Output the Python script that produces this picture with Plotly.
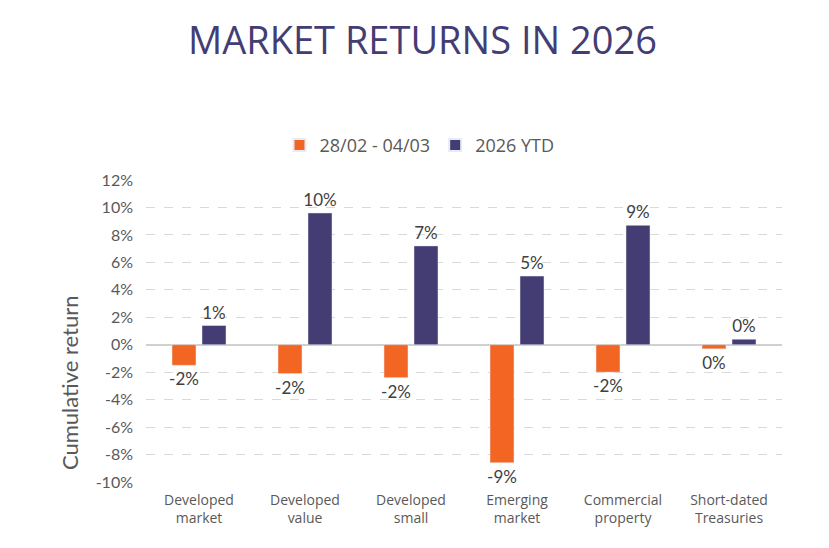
import plotly.graph_objects as go

# Categories and returns (%)
categories = [
    "Developed<br>market",
    "Developed<br>value",
    "Developed<br>small",
    "Emerging<br>market",
    "Commercial<br>property",
    "Short-dated<br>Treasuries",
]
week_returns = [-1.5, -2.1, -2.4, -8.6, -2.0, -0.3]
ytd_returns = [1.4, 9.6, 7.2, 5.0, 8.7, 0.4]

week_name = "28/02 - 04/03"
ytd_name = "2026 YTD"

y_ticks = [-10, -8, -6, -4, -2, 0, 2, 4, 6, 8, 10, 12]

ORANGE = "#F26522"
PURPLE = "#433D74"


def pct_labels(values):
    return [f"{int(round(v))}%" for v in values]


label_font = dict(family="Lato", size=17, color="#404040")

fig = go.Figure()
fig.add_trace(go.Bar(
    x=categories, y=week_returns, name=week_name,
    marker_color=ORANGE,
    text=pct_labels(week_returns), textposition="outside",
    textfont=label_font, constraintext="none",
    cliponaxis=False,
))
fig.add_trace(go.Bar(
    x=categories, y=ytd_returns, name=ytd_name,
    marker_color=PURPLE,
    text=pct_labels(ytd_returns), textposition="outside",
    textfont=label_font, constraintext="none",
    cliponaxis=False,
))

# page body adds an 8px offset, so margins are shifted accordingly
fig.update_layout(
    width=829, height=548,
    margin=dict(l=138, r=55, t=172, b=74, autoexpand=False),
    paper_bgcolor="white",
    plot_bgcolor="white",
    barmode="group",
    bargap=0.434,
    bargroupgap=0.2,
    title=dict(
        text="MARKET RETURNS IN 2026",
        x=0.5, xref="container", y=0.94, yref="container",
        xanchor="center", yanchor="middle",
        font=dict(family="Open Sans", size=38, color=PURPLE),
    ),
    legend=dict(
        orientation="h", x=0.43, xanchor="center", xref="paper",
        y=1.115, yanchor="middle",
        font=dict(family="Open Sans", size=18, color="#595959"),
        itemsizing="constant",
    ),
    showlegend=True,
    annotations=[dict(
        text="Cumulative return", textangle=-90,
        xref="paper", yref="paper", x=-0.12, y=0.33,
        xanchor="center", yanchor="middle", showarrow=False,
        font=dict(family="Lato", size=22, color="#595959"),
    )],
)

fig.update_xaxes(
    showgrid=False, showline=False, ticks="", tickangle=0,
    ticklabelstandoff=8,
    tickfont=dict(family="Open Sans", size=14, color="#595959"),
)
fig.update_yaxes(
    range=[-10, 12],
    tickvals=y_ticks, ticktext=[f"{t}%" for t in y_ticks],
    showgrid=True, gridcolor="#D9D9D9", griddash="dash", gridwidth=1,
    zeroline=True, zerolinecolor="#D0D0D0", zerolinewidth=1.5,
    ticklabelstandoff=12,
    tickfont=dict(family="Lato", size=16, color="#595959"),
)

fig.write_html("out.html")
